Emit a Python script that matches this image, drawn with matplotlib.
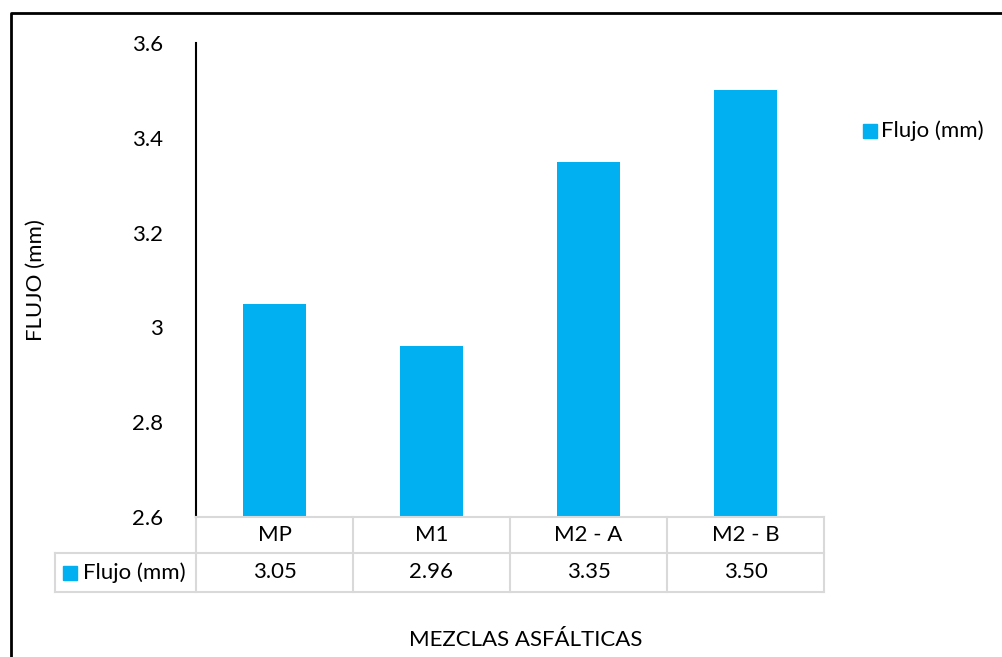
import matplotlib
matplotlib.use("Agg")
import matplotlib.pyplot as plt
from matplotlib.transforms import blended_transform_factory
from matplotlib.patches import Rectangle
from matplotlib.lines import Line2D

# datos del ensayo Marshall
mezclas = ["MP", "M1", "M2 - A", "M2 - B"]
flujo = [3.05, 2.96, 3.35, 3.50]
serie = "Flujo (mm)"
y_ticks = [2.6, 2.8, 3.0, 3.2, 3.4, 3.6]
y_labels = ["2.6", "2.8", "3", "3.2", "3.4", "3.6"]

COLOR = "#00B0F0"
GRID = "#D9D9D9"
W, H = 1003, 657
FS = 16

plt.rcParams["font.family"] = ["Lato", "DejaVu Sans"]

fig = plt.figure(figsize=(W / 100, H / 100), dpi=100)

def fx(px):
    return px / W

def fy(py):
    return 1 - py / H

# area de grafico
ax = fig.add_axes([fx(196), fy(517), fx(824) - fx(196), fy(43) - fy(517)])
ax.bar(range(len(mezclas)), flujo, width=0.4, color=COLOR, zorder=2)
ax.set_xlim(-0.5, len(mezclas) - 0.5)
ax.set_ylim(2.6, 3.6)
ax.set_yticks(y_ticks)
ax.set_yticklabels(y_labels, fontsize=FS)
ax.set_xticks([])
ax.tick_params(axis="y", length=0, pad=24)
for s in ["top", "right", "bottom"]:
    ax.spines[s].set_visible(False)
ax.spines["left"].set_linewidth(1.5)
ax.spines["left"].set_color("black")

# tabla de datos bajo el eje
tr = blended_transform_factory(ax.transData, fig.transFigure)
y_top, y_mid, y_bot = 517, 553, 592
n = len(mezclas)

def hline(x0, x1, y):
    fig.add_artist(Line2D([fx(x0), fx(x1)], [fy(y), fy(y)], color=GRID, lw=1.5,
                          transform=fig.transFigure))

hline(196, 824, y_top)
hline(55, 824, y_mid)
hline(55, 824, y_bot)
for i in range(n + 1):
    fig.add_artist(Line2D([i - 0.5, i - 0.5], [fy(y_top), fy(y_bot)], color=GRID,
                          lw=1.5, transform=tr))
fig.add_artist(Line2D([fx(55), fx(55)], [fy(y_mid), fy(y_bot)], color=GRID, lw=1.5,
                      transform=fig.transFigure))

for i, (m, v) in enumerate(zip(mezclas, flujo)):
    fig.text(i, fy((y_top + y_mid) / 2), m, transform=tr, ha="center", va="center",
             fontsize=FS)
    fig.text(i, fy((y_mid + y_bot) / 2), f"{v:.2f}", transform=tr, ha="center",
             va="center", fontsize=FS)

fig.add_artist(Rectangle((fx(63), fy(580)), fx(14), fy(566) - fy(580), color=COLOR,
                         transform=fig.transFigure))
fig.text(fx(83), fy((y_mid + y_bot) / 2), serie, ha="left", va="center", fontsize=FS)

# leyenda
fig.add_artist(Rectangle((fx(863), fy(138)), fx(14), fy(124) - fy(138), color=COLOR,
                         transform=fig.transFigure))
fig.text(fx(881), fy(131), serie, ha="left", va="center", fontsize=FS)

# titulos de ejes
fig.text(fx(36), fy(280), "FLUJO (mm)", rotation=90, ha="center", va="center",
         fontsize=FS)
fig.text(fx(526), fy(640), "MEZCLAS ASFÁLTICAS", ha="center", va="center",
         fontsize=FS)

# marco exterior
fig.add_artist(Line2D([fx(11), fx(11), fx(1003)], [fy(657), fy(13), fy(13)],
                      color="black", lw=2, transform=fig.transFigure))

fig.savefig("out.png", dpi=100)
